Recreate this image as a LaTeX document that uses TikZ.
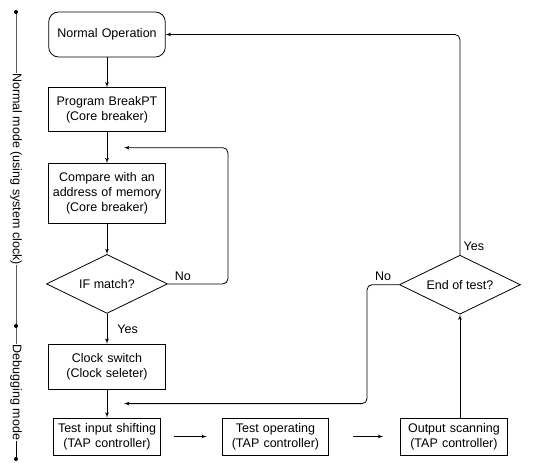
\documentclass[tikz,border=0pt]{standalone}
\usepackage{fontspec}
\setmainfont{Liberation Sans}
\usepackage{tikz}
\usetikzlibrary{shapes,arrows,calc,positioning}
\tikzstyle{decision} = [diamond, draw, aspect =2, text badly centered,
minimum width = 121pt, minimum height = 59pt, inner sep =0 pt]
\tikzstyle{startblock} =[rectangle, draw, rounded corners = 10pt, text width =110pt, text centered, minimum height = 45pt]
\tikzstyle{block} =[rectangle, draw, text width =110pt, text centered, minimum height = 44pt]
\tikzstyle{tapblock} =[rectangle, draw, text width =100pt, text centered, minimum height = 37pt]
\tikzstyle{modelabel} =[fill=white, rotate=-90, anchor=center, inner sep = 0.5pt]
\tikzstyle{line} =[draw, -latex']

\begin{document}
\begin{tikzpicture}[x=1pt, y=-1pt, node distance = 30pt, auto, line width = 0.8pt,
  every node/.style={font=\fontsize{12.5}{15}\selectfont}]
\useasboundingbox (0,0) rectangle (534,462);
\node [startblock] (init) at (107,34.5) {Normal Operation};
\node [block, below = of init] (program) {Program BreakPT\\(Core breaker)};
\node [block, below = 31pt of program, minimum height = 60pt] (compare) {Compare with an\\address of memory\\(Core breaker)};
\node [decision, below = of compare] (match) {IF match?};
\node [block, below = of match, minimum height = 45pt] (clock) {Clock switch\\(Clock seleter)};
\node [tapblock, below = 28pt of clock] (shifting) {Test input shifting\\(TAP controller)};
\node [tapblock, right = 61pt of shifting] (operating) {Test operating\\(TAP controller)};
\node [tapblock, right = 71pt of operating] (scanning) {Output scanning\\(TAP controller)};
\node [decision, above = 103pt of scanning, xshift = 6pt] (endtest) {End of test?};

\path [line] (init) -- (program);
\path [line] (program) -- (compare);
\path [line] (compare) -- (match);
\path [line] (match) -- node [right = 6.7pt] {Yes} (clock);
\path [line] (clock) -- (shifting);
\path [line, shorten <= 13pt, shorten >= 15pt] (shifting) -- (operating);
\path [line, shorten <= 24pt, shorten >= 17pt] (operating) -- (scanning);
\path [line] (scanning.north -| endtest.south) -- (endtest.south);

\coordinate (r1) at ($(match.east) + (60pt, 0)$);
\coordinate (t1) at ($(program.south)!0.5!(compare.north) + (17pt, 0)$);
\coordinate (l2) at ($(endtest.west) - (32pt, 0)$);
\coordinate (t2) at ($(clock.south)!0.5!(shifting.north) + (17pt, 0)$);
\coordinate (top2) at (endtest.north |- init.east);
\path [line, rounded corners = 5pt] (match.east) -- node [above, near start] {No} (r1) |- (t1);
\path [line, rounded corners = 5pt] (endtest.west) -- node [above] {No} (l2) |- (t2);
\path [line, rounded corners = 5pt] (endtest.north) -- node [right, pos = 0.04] {Yes} (top2) -- (init.east);

% mode axis on the left
\coordinate (m1) at (16,12);
\coordinate (m2) at (16,326);
\coordinate (m3) at (16,459);
\draw (m1) -- node [modelabel] {Normal mode (using system clock)} (m2)
  -- node [modelabel] {Debugging mode} (m3);
\foreach \m in {m1,m2,m3} \fill (\m) circle (2pt);
\end{tikzpicture}
\end{document}
